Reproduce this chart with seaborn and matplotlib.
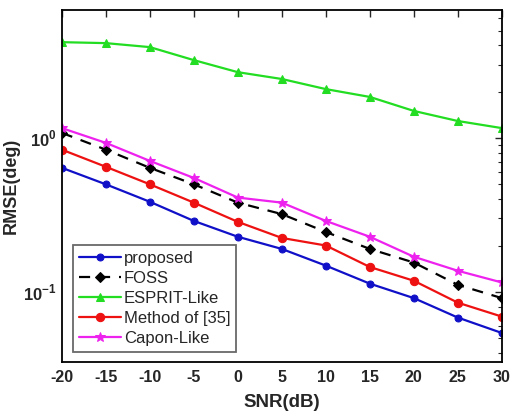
import matplotlib
matplotlib.use("Agg")
import matplotlib.pyplot as plt
import matplotlib.ticker as mticker
import seaborn as sns
import pandas as pd

snr = [-20, -15, -10, -5, 0, 5, 10, 15, 20, 25, 30]
proposed = [0.64, 0.50, 0.385, 0.289, 0.228, 0.19, 0.148, 0.113, 0.091, 0.068, 0.054]
foss = [1.08, 0.84, 0.64, 0.50, 0.38, 0.32, 0.245, 0.19, 0.155, 0.111, 0.091]
esprit = [4.20, 4.14, 3.90, 3.21, 2.68, 2.42, 2.08, 1.85, 1.50, 1.29, 1.16]
method35 = [0.84, 0.65, 0.50, 0.38, 0.285, 0.224, 0.20, 0.145, 0.118, 0.085, 0.069]
capon = [1.16, 0.93, 0.71, 0.55, 0.41, 0.38, 0.289, 0.228, 0.169, 0.137, 0.115]

series = [
    ("proposed", proposed, "#1010c8", "-", "o", 5),
    ("FOSS", foss, "black", (0, (5, 4)), "D", 5.5),
    ("ESPRIT-Like", esprit, "#22dd22", "-", "^", 6),
    ("Method of [35]", method35, "#ee1111", "-", "o", 6),
    ("Capon-Like", capon, "#ee22ee", "-", "*", 7),
]

sns.set_style("white")
plt.rcParams['font.family'] = ['Liberation Sans', 'DejaVu Sans']
plt.rcParams['mathtext.fontset'] = 'custom'
plt.rcParams['mathtext.rm'] = 'Liberation Sans:bold'
plt.rcParams['mathtext.bf'] = 'Liberation Sans:bold'

fig = plt.figure(figsize=(5.11, 4.16), dpi=100)
ax = fig.add_axes([0.121, 0.130, 0.861, 0.846])

for name, vals, col, ls, mk, ms in series:
    df = pd.DataFrame({"SNR": snr, "RMSE": vals})
    sns.lineplot(data=df, x="SNR", y="RMSE", ax=ax, color=col, linestyle=ls,
                 marker=mk, markersize=ms, markeredgecolor=col, linewidth=1.6,
                 label=name)

ax.set_yscale("log")
ax.set_xlim(-20, 30)
ax.set_ylim(0.035, 6.8)
ax.set_xticks(snr)
ax.set_xticklabels([str(s) for s in snr], fontweight="bold", fontsize=11.5)
ax.yaxis.set_major_locator(mticker.FixedLocator([0.1, 1.0]))
ax.yaxis.set_major_formatter(mticker.FixedFormatter([r"$10^{-1}$", r"$10^{0}$"]))
ax.yaxis.set_minor_locator(mticker.LogLocator(base=10, subs=range(2, 10)))
ax.yaxis.set_minor_formatter(mticker.NullFormatter())
for lbl in ax.get_yticklabels():
    lbl.set_fontsize(12)
    lbl.set_fontweight("bold")
ax.tick_params(which="both", direction="in", top=True, right=True)
ax.tick_params(which="major", length=5, width=1)
ax.tick_params(axis="x", which="major", pad=6)
ax.tick_params(axis="y", which="major", pad=4)
ax.tick_params(which="minor", length=3, width=0.8)
for s in ax.spines.values():
    s.set_linewidth(1.3)
    s.set_color("black")
ax.set_xlabel("SNR(dB)", fontweight="bold", fontsize=13.5, labelpad=6)
ax.set_ylabel("RMSE(deg)", fontweight="bold", fontsize=13, labelpad=2)

leg = ax.legend(loc="lower left", bbox_to_anchor=(0.018, 0.02), fontsize=12,
                frameon=True, fancybox=False, handlelength=2.5, borderpad=0.35,
                labelspacing=0.3, handletextpad=0.2, borderaxespad=0.2)
leg.get_frame().set_edgecolor("#444444")
leg.get_frame().set_linewidth(1.3)

fig.savefig("out.png", dpi=100)
